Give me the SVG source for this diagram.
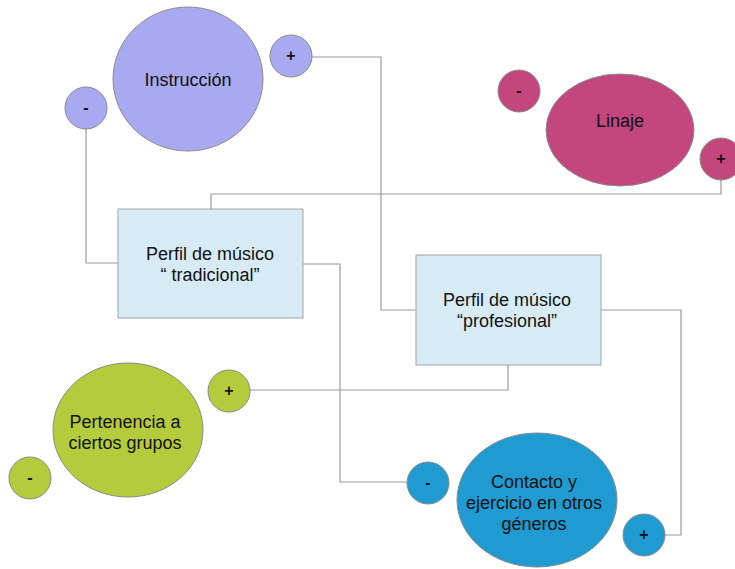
<svg xmlns="http://www.w3.org/2000/svg" width="735" height="569" viewBox="0 0 735 569">
<style>
text{font-family:"Liberation Sans",Arial,sans-serif;font-size:18px;fill:#111;text-anchor:middle}
.sign{font-size:16px;font-weight:bold}
.box{fill:#d6ebf6;stroke:#a3a3a3;stroke-width:1}
.c{stroke:#8a8a8a;stroke-width:1}
.ins{fill:#a9a9f1}
.lin{fill:#c3467c}
.per{fill:#b4cc3c}
.con{fill:#1f9bd2}
.wire{fill:none;stroke:#9a9a9a;stroke-width:1.2}
</style>
<rect width="735" height="569" fill="#fff"/>
<g id="connectors">
<polyline class="wire" points="312,57 381,57 381,310 416,310"/>
<polyline class="wire" points="86,129 86,263 118,263"/>
<polyline class="wire" points="211,209 211,194 721,194 721,180"/>
<polyline class="wire" points="303,264 340,264 340,482 407,482"/>
<polyline class="wire" points="601,310 681,310 681,535 665,535"/>
<polyline class="wire" points="508,365 508,390 250,390"/>
</g>
<g id="instruccion">
<ellipse class="c ins" cx="188" cy="79" rx="75" ry="72"/>
<text x="188" y="86">Instrucción</text>
</g>
<g id="instruccion-plus">
<circle class="c ins" cx="291" cy="56" r="21"/>
<text class="sign" x="291" y="61">+</text>
</g>
<g id="instruccion-minus">
<circle class="c ins" cx="86" cy="108" r="21"/>
<text class="sign" x="86" y="113">-</text>
</g>
<g id="linaje">
<ellipse class="c lin" cx="620" cy="130" rx="74" ry="56"/>
<text x="620" y="127">Linaje</text>
</g>
<g id="linaje-minus">
<circle class="c lin" cx="519" cy="91" r="21"/>
<text class="sign" x="519" y="96">-</text>
</g>
<g id="linaje-plus">
<circle class="c lin" cx="721" cy="159" r="21"/>
<text class="sign" x="721" y="164">+</text>
</g>
<g id="tradicional">
<rect class="box" x="118" y="209" width="185" height="109"/>
<text x="210" y="260">Perfil de músico</text>
<text x="210" y="281">“ tradicional”</text>
</g>
<g id="profesional">
<rect class="box" x="416" y="255" width="185" height="110"/>
<text x="507" y="306">Perfil de músico</text>
<text x="507" y="327">“profesional”</text>
</g>
<g id="pertenencia">
<ellipse class="c per" cx="128" cy="430" rx="75" ry="67"/>
<text x="125" y="428">Pertenencia a</text>
<text x="125" y="449">ciertos grupos</text>
</g>
<g id="pertenencia-plus">
<circle class="c per" cx="229" cy="391" r="21"/>
<text class="sign" x="229" y="396">+</text>
</g>
<g id="pertenencia-minus">
<circle class="c per" cx="30" cy="478" r="21"/>
<text class="sign" x="30" y="483">-</text>
</g>
<g id="contacto">
<ellipse class="c con" cx="537" cy="500" rx="80" ry="67"/>
<text x="534" y="488">Contacto y</text>
<text x="534" y="509">ejercicio en otros</text>
<text x="534" y="530">géneros</text>
</g>
<g id="contacto-minus">
<circle class="c con" cx="428" cy="483" r="21"/>
<text class="sign" x="428" y="488">-</text>
</g>
<g id="contacto-plus">
<circle class="c con" cx="644" cy="535" r="21"/>
<text class="sign" x="644" y="540">+</text>
</g>
</svg>
